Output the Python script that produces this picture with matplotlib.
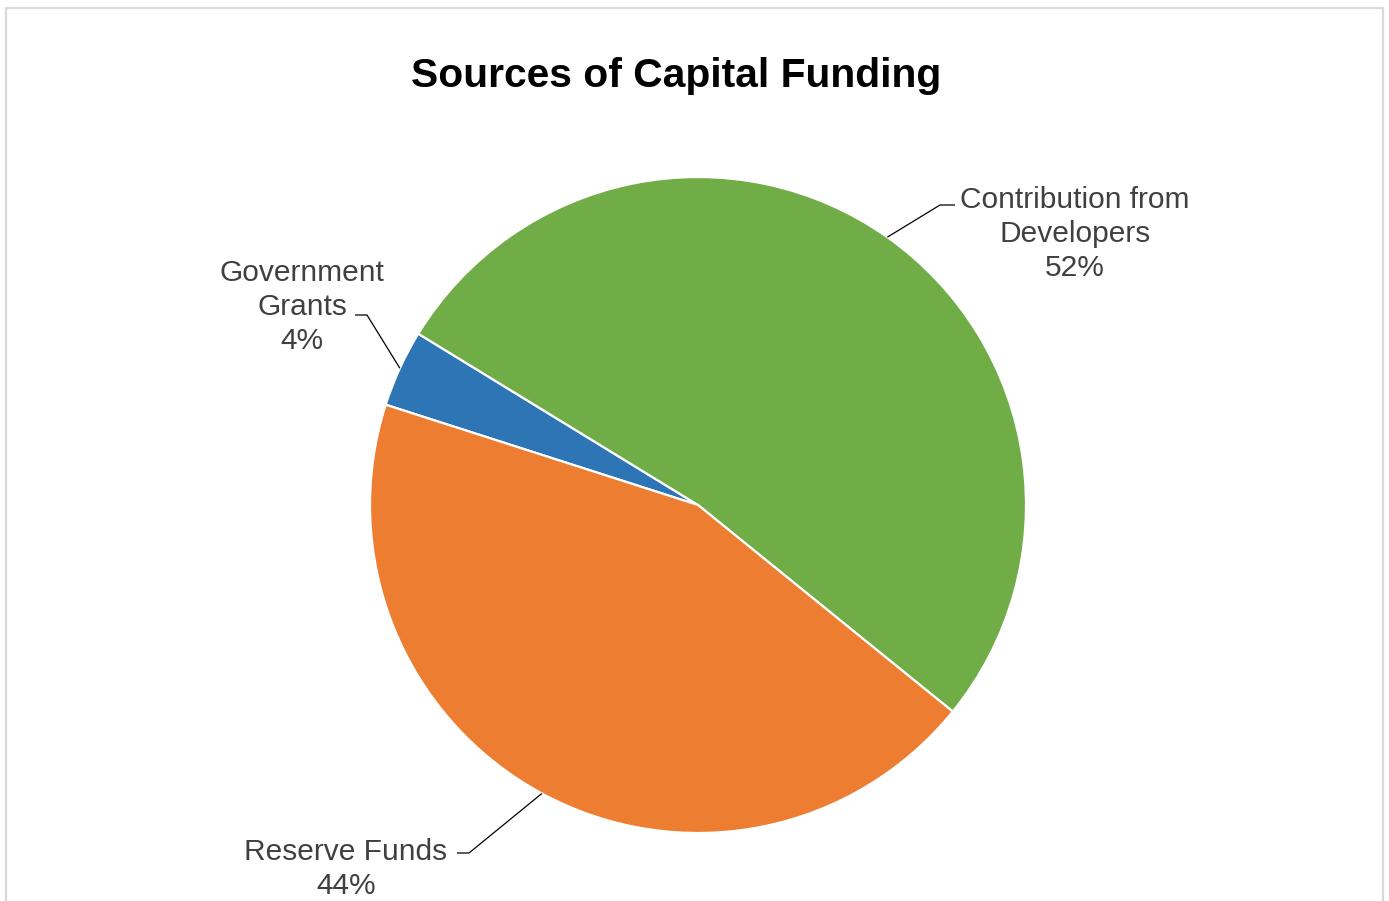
import numpy as np
import matplotlib
matplotlib.use('Agg')
import matplotlib.pyplot as plt
from matplotlib.patches import Rectangle

plt.rcParams['font.family'] = ['Liberation Sans', 'DejaVu Sans']

# data (clockwise order as in the chart)
labels = ['Government\nGrants', 'Contribution from\nDevelopers', 'Reserve Funds']
shares = [3.8, 52.1, 44.1]
colors = ['#2E75B6', '#70AD47', '#ED7D31']

W, H = 1389, 901
fig = plt.figure(figsize=(W / 100, H / 100), dpi=100)
ax = fig.add_axes([0, 0, 1, 1])

# pixel helper: image y (top-down) -> axes y
def py(y):
    return H - y

cx, cy, r = 698, py(505), 328
wedges, _ = ax.pie(shares, colors=colors, startangle=162.2, counterclock=False,
                   center=(cx, cy), radius=r, frame=True,
                   wedgeprops=dict(edgecolor='white', linewidth=1.6))
ax.set_xlim(0, W)
ax.set_ylim(0, H)
ax.axis('off')

# label text anchors and leader-line elbows (image pixel coords)
text_pos = [(302, 307), (1075, 234), (346, 869)]
elbows = [((355, 315), (367, 315)), ((955, 205), (940, 205)), ((457, 853), (469, 853))]

total = sum(shares)
for w, lab, s, (tx, ty), (e0, e1) in zip(wedges, labels, shares, text_pos, elbows):
    pct = f'{round(100 * s / total)}%'
    ax.text(tx, py(ty), f'{lab}\n{pct}', ha='center', va='center',
            fontsize=21.5, color='#404040', linespacing=1.28)
    mid = np.deg2rad((w.theta1 + w.theta2) / 2)
    px, pyy = cx + r * np.cos(mid), cy + r * np.sin(mid)
    ax.plot([e0[0], e1[0], px], [py(e0[1]), py(e1[1]), pyy],
            color='black', lw=0.9, solid_capstyle='butt')

ax.text(676, py(76), 'Sources of Capital Funding', ha='center', va='center',
        fontsize=29.3, fontweight='bold', color='black')

ax.add_patch(Rectangle((6, py(920)), 1377, 920 - 8, fill=False,
                       edgecolor='#D9D9D9', lw=1.6))

fig.savefig('out.png', dpi=100)
